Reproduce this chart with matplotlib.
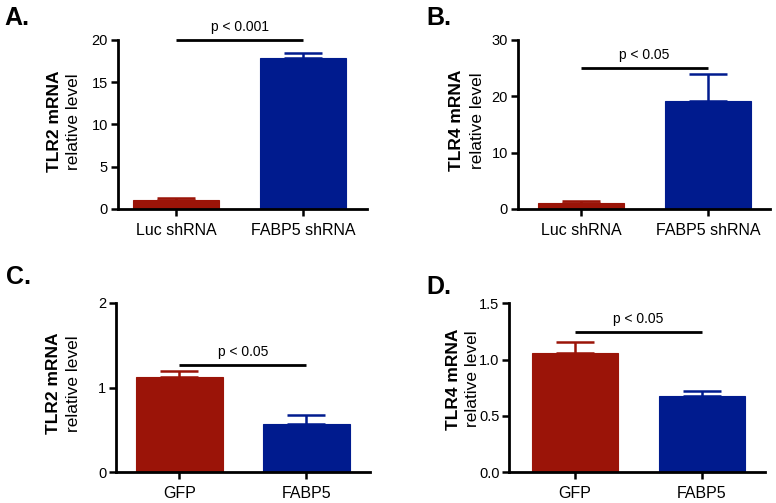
import matplotlib
matplotlib.use("Agg")
import matplotlib.pyplot as plt

plt.rcParams['font.family'] = ['Liberation Sans', 'DejaVu Sans']

RED = '#9B1408'
BLUE = '#001B8E'

# Panel data
labels_A = ['Luc shRNA', 'FABP5 shRNA']
vals_A = [1.05, 17.9]
err_A = [0.25, 0.6]
sig_A = 20.0
yticks_A = [0, 5, 10, 15, 20]
ylim_A = 20

labels_B = ['Luc shRNA', 'FABP5 shRNA']
vals_B = [1.0, 19.1]
err_B = [0.35, 4.8]
sig_B = 25.0
yticks_B = [0, 10, 20, 30]
ylim_B = 30

labels_C = ['GFP', 'FABP5']
vals_C = [1.12, 0.565]
err_C = [0.08, 0.11]
sig_C = 1.27
yticks_C = [0, 1, 2]
ylim_C = 2

labels_D = ['GFP', 'FABP5']
vals_D = [1.06, 0.68]
err_D = [0.10, 0.04]
sig_D = 1.243
yticks_D = [0.0, 0.5, 1.0, 1.5]
ytl_D = ['0.0', '0.5', '1.0', '1.5']
ylim_D = 1.5

fig = plt.figure(figsize=(7.76, 5.03), dpi=100)

panels = [
    dict(rect=[0.1517, 0.5845, 0.3213, 0.336], xl=(-0.459, 1.504), labels=labels_A, vals=vals_A, err=err_A,
         sig=sig_A, ptext='p < 0.001', yt=yticks_A, ytl=[str(t) for t in yticks_A], ylim=ylim_A,
         ylab='TLR2 mRNA', letter='A.', lpos=(0.006, 0.950), labx=(0.0696, 0.0945), yc=0.758),
    dict(rect=[0.667, 0.5845, 0.325, 0.336], xl=(-0.498, 1.488), labels=labels_B, vals=vals_B, err=err_B,
         sig=sig_B, ptext='p < 0.05', yt=yticks_B, ytl=[str(t) for t in yticks_B], ylim=ylim_B,
         ylab='TLR4 mRNA', letter='B.', lpos=(0.550, 0.950), labx=(0.5885, 0.6150), yc=0.760),
    dict(rect=[0.1495, 0.061, 0.3273, 0.337], xl=(-0.498, 1.50), labels=labels_C, vals=vals_C, err=err_C,
         sig=sig_C, ptext='p < 0.05', yt=yticks_C, ytl=[str(t) for t in yticks_C], ylim=ylim_C,
         ylab='TLR2 mRNA', letter='C.', lpos=(0.008, 0.435), labx=(0.0690, 0.0945), yc=0.238),
    dict(rect=[0.6563, 0.061, 0.3295, 0.336], xl=(-0.516, 1.498), labels=labels_D, vals=vals_D, err=err_D,
         sig=sig_D, ptext='p < 0.05', yt=yticks_D, ytl=ytl_D, ylim=ylim_D,
         ylab='TLR4 mRNA', letter='D.', lpos=(0.549, 0.415), labx=(0.5850, 0.6095), yc=0.2465),
]

for p in panels:
    ax = fig.add_axes(p['rect'])
    x = [0, 1]
    ax.bar(x, p['vals'], width=0.68, color=[RED, BLUE], edgecolor=[RED, BLUE], linewidth=0.8, zorder=2)
    for xi, v, e, c in zip(x, p['vals'], p['err'], [RED, BLUE]):
        ax.errorbar([xi], [v], yerr=[[0], [e]], fmt='none', ecolor=c, elinewidth=1.8,
                    capsize=14, capthick=1.8, zorder=1)
    ax.plot([0, 1], [p['sig'], p['sig']], color='black', lw=2, clip_on=False, solid_capstyle='butt')
    ax.text(0.5, p['sig'] + p['ylim'] * 0.035, p['ptext'], ha='center', va='bottom', fontsize=10)
    ax.set_xlim(*p['xl'])
    ax.set_ylim(0, p['ylim'])
    ax.set_yticks(p['yt'])
    ax.set_yticklabels(p['ytl'])
    ax.set_xticks(x)
    ax.set_xticklabels(p['labels'])
    for s in ['top', 'right']:
        ax.spines[s].set_visible(False)
    for s in ['left', 'bottom']:
        ax.spines[s].set_linewidth(2)
    ax.tick_params(axis='both', direction='out', length=5, width=1.8, labelsize=10.5, pad=2)
    ax.tick_params(axis='x', labelsize=11.5, pad=5)
    # y label
    yc = p['yc']
    fig.text(p['labx'][0], yc, p['ylab'], rotation=90, ha='center', va='center', fontsize=12.5, fontweight='bold')
    fig.text(p['labx'][1], yc, 'relative level', rotation=90, ha='center', va='center', fontsize=12.5)
    fig.text(p['lpos'][0], p['lpos'][1], p['letter'], ha='left', va='baseline', fontsize=18, fontweight='bold')

fig.savefig('out.png', dpi=100)
